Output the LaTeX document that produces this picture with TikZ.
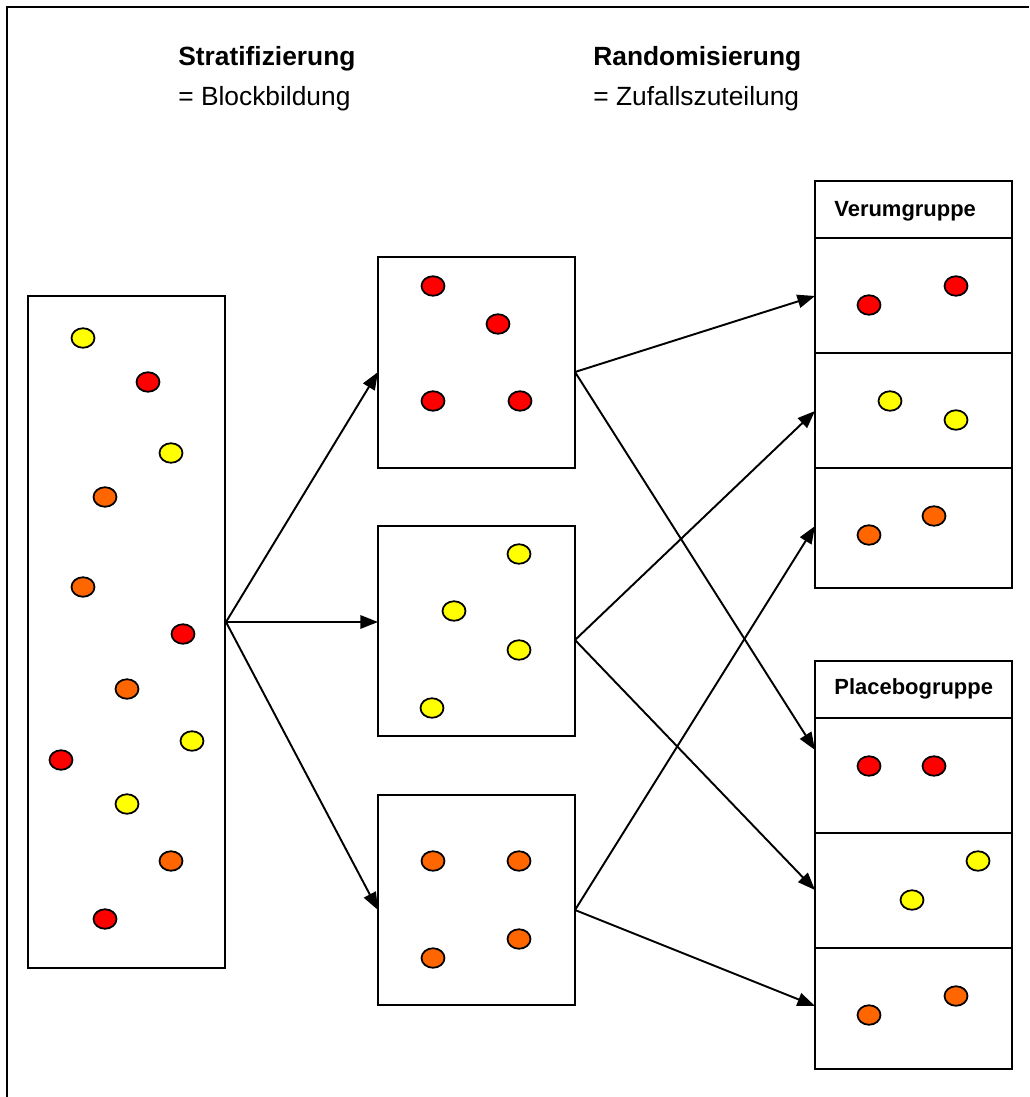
\documentclass[tikz,border=0pt]{standalone}
\usepackage{fontspec}
\setmainfont{Liberation Sans}
\usetikzlibrary{arrows.meta}
\definecolor{punktrot}{HTML}{FF0000}
\definecolor{punktgelb}{HTML}{FFFF00}
\definecolor{punktorange}{HTML}{FF6600}

\begin{document}
\begin{tikzpicture}[x=0.02cm, y=-0.02cm,
        kasten/.style={draw, line width=1.1pt},
        pfeil/.style={-{Triangle[length=10pt, width=7.6pt]}, line width=1.1pt},
        punkt/.style={draw, line width=1pt},
        titel/.style={anchor=base west, inner sep=0pt, font=\fontsize{15}{18}\selectfont\bfseries},
        untertitel/.style={anchor=base west, inner sep=0pt, font=\fontsize{15}{18}\selectfont},
        gruppe/.style={anchor=west, inner sep=0pt, font=\fontsize{12.5}{15}\selectfont\bfseries}]

        \useasboundingbox (0,0) rectangle (1029,1097);

        \draw[line width=1.1pt] (7,1097) -- (7,7) -- (1029,7);


        \node[titel] (strat) at (178,66) {Stratifizierung};

        \node[untertitel] (block) at (178,106) {= Blockbildung};

        \node[titel] (rand) at (593,66) {Randomisierung};

        \node[untertitel] (zufall) at (593,106) {= Zufallszuteilung};


        \draw[kasten] (28,296) rectangle (225,968);

        \draw[kasten] (378,257) rectangle (575,468);

        \draw[kasten] (378,526) rectangle (575,736);

        \draw[kasten] (378,795) rectangle (575,1005);


        \draw[kasten] (815,181) rectangle (1012,588);

        \draw[kasten] (815,661) rectangle (1012,1069);

        \foreach \y in {238, 353, 468, 718, 833, 948} {
            \draw[kasten] (815,\y) -- (1012,\y);
        }

        \node[gruppe] (verum) at (834,211) {Verumgruppe};

        \node[gruppe] (placebo) at (834,689) {Placebogruppe};


        \foreach \x/\y/\farbe in {83/338/punktgelb, 148/382/punktrot, 171/453/punktgelb, 105/497/punktorange,
                83/587/punktorange, 183/634/punktrot, 127/689/punktorange, 192/741/punktgelb,
                61/760/punktrot, 127/804/punktgelb, 171/861/punktorange, 105/919/punktrot,
                433/286/punktrot, 498/324/punktrot, 433/401/punktrot, 520/401/punktrot,
                519/554/punktgelb, 454/611/punktgelb, 519/650/punktgelb, 432/708/punktgelb,
                433/861/punktorange, 519/861/punktorange, 519/939/punktorange, 433/958/punktorange,
                869/305/punktrot, 956/286/punktrot, 890/401/punktgelb, 956/420/punktgelb,
                869/535/punktorange, 934/516/punktorange,
                869/766/punktrot, 934/766/punktrot, 978/861/punktgelb, 912/900/punktgelb,
                869/1015/punktorange, 956/996/punktorange} {
            \draw[punkt, fill=\farbe] (\x,\y) ellipse [x radius=0.23cm, y radius=0.195cm];
        }


        \coordinate (pool) at (226,622);

        \coordinate (blockA-ein) at (378,372);
        \coordinate (blockB-ein) at (378,622);
        \coordinate (blockC-ein) at (378,910);

        \coordinate (blockA-aus) at (575,372);
        \coordinate (blockB-aus) at (575,640);
        \coordinate (blockC-aus) at (575,910);

        \coordinate (verumA) at (815,296);
        \coordinate (verumB) at (815,411);
        \coordinate (verumC) at (815,526);

        \coordinate (placeboA) at (815,750);
        \coordinate (placeboB) at (815,890);
        \coordinate (placeboC) at (815,1006);

        \draw[pfeil] (pool) -- (blockA-ein);
        \draw[pfeil] (pool) -- (blockB-ein);
        \draw[pfeil] (pool) -- (blockC-ein);

        \draw[pfeil] (blockA-aus) -- (verumA);
        \draw[pfeil] (blockA-aus) -- (placeboA);
        \draw[pfeil] (blockB-aus) -- (verumB);
        \draw[pfeil] (blockB-aus) -- (placeboB);
        \draw[pfeil] (blockC-aus) -- (verumC);
        \draw[pfeil] (blockC-aus) -- (placeboC);

\end{tikzpicture}
\end{document}
